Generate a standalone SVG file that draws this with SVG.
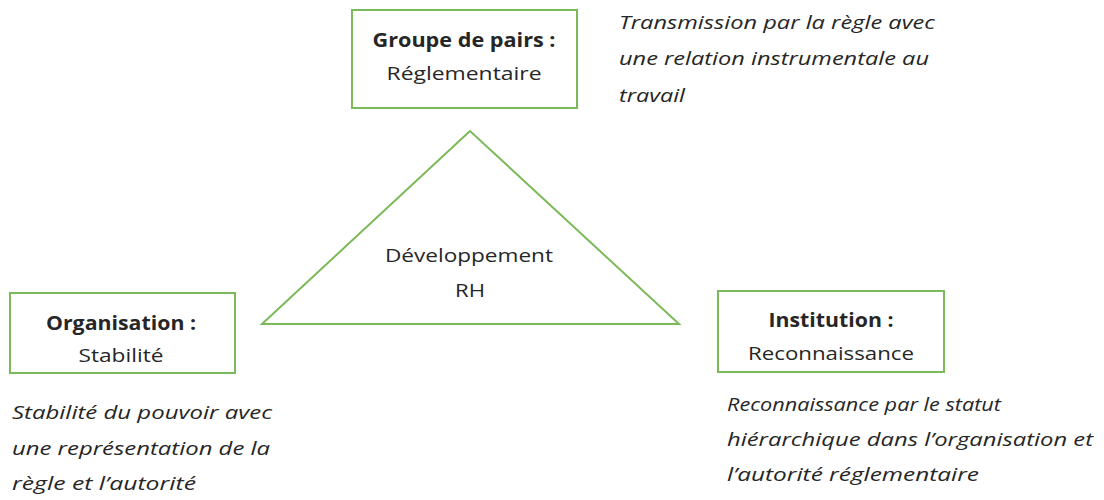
<svg xmlns="http://www.w3.org/2000/svg" width="1104" height="500" viewBox="0 0 1104 500">
<style>
.box{fill:#fff;stroke:#7cb95a;stroke-width:2}
.t{font-family:"Open Sans","Noto Sans","Liberation Sans",sans-serif;font-size:19px;fill:#262626;text-anchor:middle}
.b{font-weight:bold}
.i{font-family:"Open Sans","Noto Sans","Liberation Sans",sans-serif;font-size:19px;font-style:italic;fill:#262626}
</style>
<rect width="1104" height="500" fill="#fff"/>
<g id="connectors">
<polygon points="470,131 262,324 679,324" fill="none" stroke="#7cb95a" stroke-width="2"/>
</g>
<g id="node-centre">
<text class="t" x="469" y="262" textLength="168" lengthAdjust="spacingAndGlyphs">Développement</text>
<text class="t" x="470" y="297" textLength="30" lengthAdjust="spacingAndGlyphs">RH</text>
</g>
<g id="node-groupe">
<rect class="box" x="352" y="10" width="225" height="98"/>
<text class="t b" x="464" y="47" textLength="183" lengthAdjust="spacingAndGlyphs">Groupe de pairs :</text>
<text class="t" x="464" y="80" textLength="155" lengthAdjust="spacingAndGlyphs">Réglementaire</text>
</g>
<g id="node-organisation">
<rect class="box" x="10" y="293" width="225" height="80"/>
<text class="t b" x="121" y="330" textLength="150" lengthAdjust="spacingAndGlyphs">Organisation :</text>
<text class="t" x="121" y="362" textLength="85" lengthAdjust="spacingAndGlyphs">Stabilité</text>
</g>
<g id="node-institution">
<rect class="box" x="718" y="291" width="226" height="81"/>
<text class="t b" x="831" y="327" textLength="125" lengthAdjust="spacingAndGlyphs">Institution :</text>
<text class="t" x="831" y="360" textLength="166" lengthAdjust="spacingAndGlyphs">Reconnaissance</text>
</g>
<g id="note-groupe">
<text class="i" x="619" y="29" textLength="316" lengthAdjust="spacingAndGlyphs">Transmission par la règle avec</text>
<text class="i" x="619" y="65" textLength="310" lengthAdjust="spacingAndGlyphs">une relation instrumentale au</text>
<text class="i" x="619" y="102" textLength="66" lengthAdjust="spacingAndGlyphs">travail</text>
</g>
<g id="note-organisation">
<text class="i" x="12" y="419" textLength="260" lengthAdjust="spacingAndGlyphs">Stabilité du pouvoir avec</text>
<text class="i" x="12" y="455" textLength="258" lengthAdjust="spacingAndGlyphs">une représentation de la</text>
<text class="i" x="12" y="490" textLength="184" lengthAdjust="spacingAndGlyphs">règle et l’autorité</text>
</g>
<g id="note-institution">
<text class="i" x="727" y="411" textLength="274" lengthAdjust="spacingAndGlyphs">Reconnaissance par le statut</text>
<text class="i" x="727" y="446" textLength="366" lengthAdjust="spacingAndGlyphs">hiérarchique dans l’organisation et</text>
<text class="i" x="727" y="481" textLength="252" lengthAdjust="spacingAndGlyphs">l’autorité réglementaire</text>
</g>
</svg>
